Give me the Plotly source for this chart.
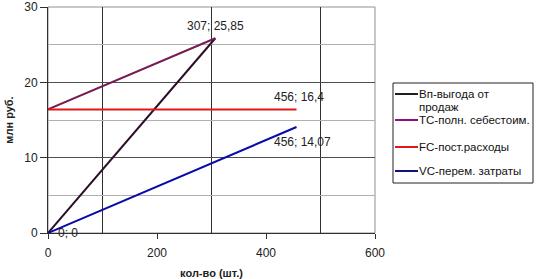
import plotly.graph_objects as go

# Data
names = ["Вп-выгода от<br>продаж", "TC-полн. себестоим.", "FC-пост.расходы", "VC-перем. затраты"]
x_vp = [0, 307]
y_vp = [0, 25.85]
x_tc = [0, 307]
y_tc = [16.4, 25.85]
x_fc = [0, 456]
y_fc = [16.4, 16.4]
x_vc = [0, 456]
y_vc = [0, 14.07]

lab_x = [307, 456, 456, 0]
lab_y = [25.85, 16.4, 14.07, 0]
lab_text = ["307; 25,85", "456; 16,4", "456; 14,07", "0; 0"]

colors = ["#2a0f2a", "#7a1a52", "#e01818", "#0a0aa8"]
leg_colors = ["#202020", "#8a108a", "#e01818", "#101080"]

FONT = "Liberation Sans, Arial, sans-serif"
W, H = 541, 279
ML, MR, MT, MB = 48, 166, 7, 46
PW, PH = W - ML - MR, H - MT - MB


def px(x):
    return (x - ML) / PW


def py(y):
    return (H - MB - y) / PH


fig = go.Figure()
series = [(x_vp, y_vp), (x_tc, y_tc), (x_fc, y_fc), (x_vc, y_vc)]
for i, (xs, ys) in enumerate(series):
    fig.add_trace(go.Scatter(x=xs, y=ys, mode="lines", name=names[i],
                             line=dict(color=colors[i], width=2), showlegend=False))

offsets = [(0, 12, "center"), (2, 12, "center"), (6, -15, "center"), (8, 0, "left")]
for (x, y, t, (dx, dy, xa)) in zip(lab_x, lab_y, lab_text, offsets):
    fig.add_annotation(x=x, y=y, text=t, showarrow=False, xshift=dx, yshift=dy,
                       xanchor=xa, font=dict(family=FONT, size=12, color="#222"))

# Manual legend box
fig.add_shape(type="rect", xref="paper", yref="paper",
              x0=px(393), x1=px(533), y0=py(183), y1=py(83),
              line=dict(color="#222", width=1), fillcolor="white")
leg_line_y = [94, 120, 147, 171]
for i in range(4):
    fig.add_shape(type="line", xref="paper", yref="paper",
                  x0=px(395), x1=px(418), y0=py(leg_line_y[i]), y1=py(leg_line_y[i]),
                  line=dict(color=leg_colors[i], width=2))
    lines = names[i].split("<br>")
    for j, part in enumerate(lines):
        fig.add_annotation(xref="paper", yref="paper", x=px(418), y=py(leg_line_y[i] + 13 * j),
                           text=part, showarrow=False, xanchor="left", yanchor="middle",
                           align="left", borderpad=0,
                           font=dict(family=FONT, size=11.5, color="#111"))

fig.update_layout(
    width=W, height=H,
    margin=dict(l=ML, r=MR, t=MT, b=MB, autoexpand=False),
    paper_bgcolor="white", plot_bgcolor="white",
    font=dict(family=FONT, size=12, color="#222"),
    showlegend=False,
    xaxis=dict(range=[0, 600], dtick=200, tick0=0, showgrid=False, automargin=False,
               minor=dict(dtick=100, showgrid=True, gridcolor="#303030", gridwidth=1),
               showline=True, linecolor="#303030", linewidth=1,
               ticks="outside", ticklen=5, tickcolor="#303030",
               ticklabelstandoff=4,
               zeroline=False,
               title=dict(text="<b>кол-во (шт.)</b>", font=dict(family=FONT, size=11), standoff=10)),
    yaxis=dict(range=[0, 30], dtick=10, tick0=0, showgrid=True, gridcolor="#505050", gridwidth=1,
               automargin=False,
               minor=dict(dtick=5, showgrid=True, gridcolor="#b0b0b0", gridwidth=1),
               showline=True, linecolor="#303030", linewidth=1,
               ticks="outside", ticklen=7, tickcolor="#303030",
               zeroline=False,
               title=dict(text="<b>млн руб.</b>", font=dict(family=FONT, size=11), standoff=8)),
)
fig.add_shape(type="rect", xref="paper", yref="paper", x0=0, y0=0, x1=1, y1=1,
              line=dict(color="#909090", width=1), layer="below")

fig.write_html("out.html")
